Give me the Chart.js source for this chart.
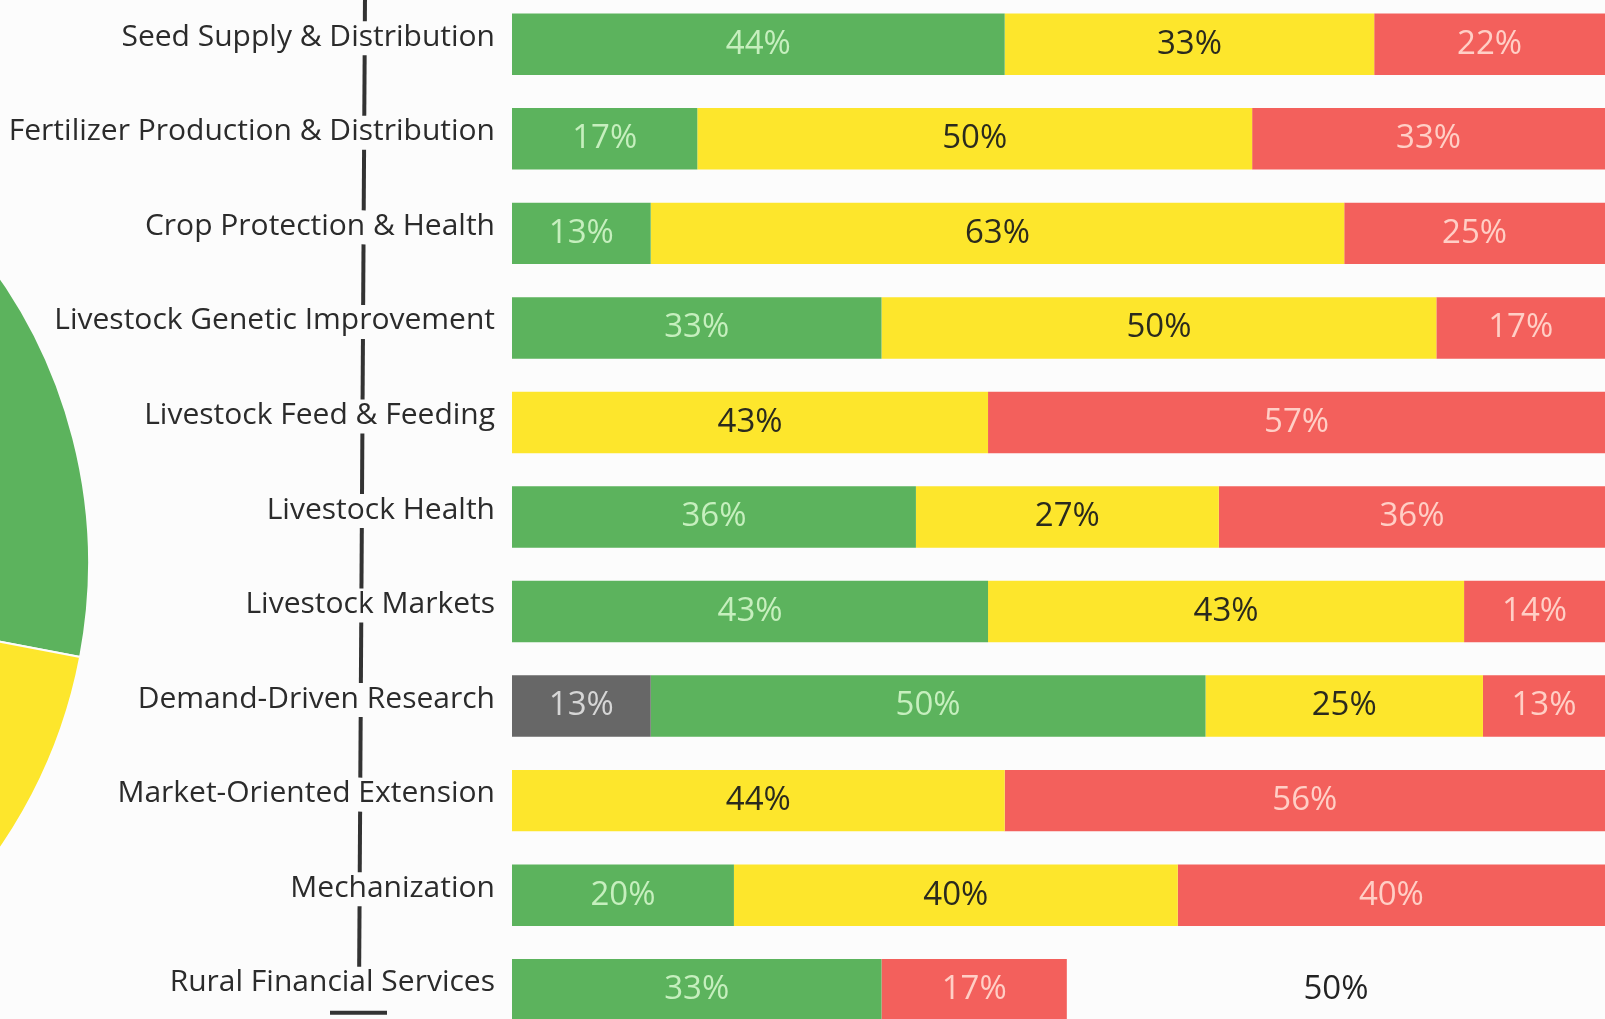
<!DOCTYPE html>
<html>
<head>
<meta charset="utf-8">
<script src="https://cdn.jsdelivr.net/npm/chart.js@4/dist/chart.umd.min.js"></script>
<style>
  html, body { margin: 0; padding: 0; background: #fcfcfc; overflow: hidden; }
  body { width: 1605px; height: 1019px; position: relative; }
  #pie-wrap { position: absolute; left: -916px; top: 60px; width: 1006px; height: 1006px; }
  #bar-wrap { position: absolute; left: 0; top: -3px; width: 1605px; height: 1040px; }
</style>
</head>
<body>
<div id="pie-wrap"><canvas id="pie" width="1006" height="1006"></canvas></div>
<div id="bar-wrap"><canvas id="bars"></canvas></div>
<script>
const categories = [
    'Seed Supply & Distribution',
    'Fertilizer Production & Distribution',
    'Crop Protection & Health',
    'Livestock Genetic Improvement',
    'Livestock Feed & Feeding',
    'Livestock Health',
    'Livestock Markets',
    'Demand-Driven Research',
    'Market-Oriented Extension',
    'Mechanization',
    'Rural Financial Services'
];

const greyValues   = [0, 0, 0, 0, 0, 0, 0, 12.5, 0, 0, 0];
const greenValues  = [44.4, 16.7, 12.5, 33.3, 0, 36.4, 42.9, 50, 0, 20, 33.3];
const yellowValues = [33.3, 50, 62.5, 50, 42.9, 27.3, 42.9, 25, 44.4, 40, 0];
const redValues    = [22.2, 33.3, 25, 16.7, 57.1, 36.4, 14.3, 12.5, 55.6, 40, 16.7];
const blankValues  = [0, 0, 0, 0, 0, 0, 0, 0, 0, 0, 50];

// partial pie at the left edge (only its right rim is on the page)
const pieLabels = ['Green', 'Yellow', 'Red', 'Grey'];
const pieValues = [28, 38, 28, 6];

const GREEN = '#5cb35d';
const YELLOW = '#fde62c';
const RED = '#f3605c';
const GREY = '#676767';

new Chart(document.getElementById('pie').getContext('2d'), {
    type: 'pie',
    data: {
        labels: pieLabels,
        datasets: [{
            data: pieValues,
            backgroundColor: [GREEN, YELLOW, RED, GREY],
            borderColor: '#fcfcfc',
            borderWidth: 2
        }]
    },
    options: {
        responsive: false,
        animation: false,
        plugins: { legend: { display: false }, tooltip: { enabled: false } }
    }
});

const segmentLabels = {
    id: 'segmentLabels',
    afterDatasetsDraw(chart) {
        const ctx = chart.ctx;
        const area = chart.chartArea;
        ctx.save();
        ctx.font = '33px "Open Sans"';
        ctx.textAlign = 'center';
        ctx.textBaseline = 'middle';
        chart.data.datasets.forEach((ds, i) => {
            chart.getDatasetMeta(i).data.forEach((bar, j) => {
                const v = ds.data[j];
                if (!v) return;
                const left = Math.max(Math.min(bar.x, bar.base), area.left);
                const right = Math.min(Math.max(bar.x, bar.base), area.right);
                ctx.fillStyle = ds.labelColor;
                ctx.fillText(Math.round(v) + '%', (left + right) / 2, bar.y);
            });
        });
        ctx.restore();
    }
};

const connector = {
    id: 'connector',
    afterDraw(chart) {
        const ctx = chart.ctx;
        const y = chart.scales.y;
        const xAt = py => 365 - 6 * (py / 1000);
        const n = categories.length;
        ctx.save();
        ctx.strokeStyle = '#333';
        ctx.lineWidth = 4;
        const seg = (y1, y2) => {
            ctx.beginPath();
            ctx.moveTo(xAt(y1), y1);
            ctx.lineTo(xAt(y2), y2);
            ctx.stroke();
        };
        const mid = i => y.getPixelForTick(i) - 7;
        seg(0, mid(0) - 16);
        for (let i = 0; i < n - 1; i++) {
            seg(mid(i) + 18, mid(i + 1) - 16);
        }
        const by = mid(n - 1) + 30;
        ctx.beginPath();
        ctx.moveTo(330, by);
        ctx.lineTo(387, by);
        ctx.stroke();
        ctx.restore();
    }
};

new Chart(document.getElementById('bars').getContext('2d'), {
    type: 'bar',
    data: {
        labels: categories,
        datasets: [
            { label: 'Grey', data: greyValues, backgroundColor: GREY, labelColor: '#d6d6d6' },
            { label: 'Green', data: greenValues, backgroundColor: GREEN, labelColor: '#c6efbe' },
            { label: 'Yellow', data: yellowValues, backgroundColor: YELLOW, labelColor: '#2a2a1e' },
            { label: 'Red', data: redValues, backgroundColor: RED, labelColor: '#ffcfc6' },
            { label: 'Blank', data: blankValues, backgroundColor: 'rgba(0,0,0,0)', labelColor: '#222' }
        ]
    },
    options: {
        indexAxis: 'y',
        responsive: true,
        maintainAspectRatio: false,
        animation: false,
        layout: { padding: 0 },
        datasets: {
            bar: { barPercentage: 0.65, categoryPercentage: 1, borderWidth: 0 }
        },
        scales: {
            x: {
                stacked: true,
                display: false,
                min: 0,
                max: 98.5
            },
            y: {
                stacked: true,
                grid: { display: false, drawTicks: false },
                border: { display: false },
                afterFit(scale) {
                    scale.width = 512;
                    scale.paddingTop = 0;
                    scale.paddingBottom = 0;
                },
                ticks: {
                    padding: 17,
                    labelOffset: -7,
                    color: '#2b2b2b',
                    font: { family: 'Open Sans', size: 30 }
                }
            }
        },
        plugins: {
            legend: { display: false },
            tooltip: { enabled: false }
        }
    },
    plugins: [segmentLabels, connector]
});
</script>
</body>
</html>
